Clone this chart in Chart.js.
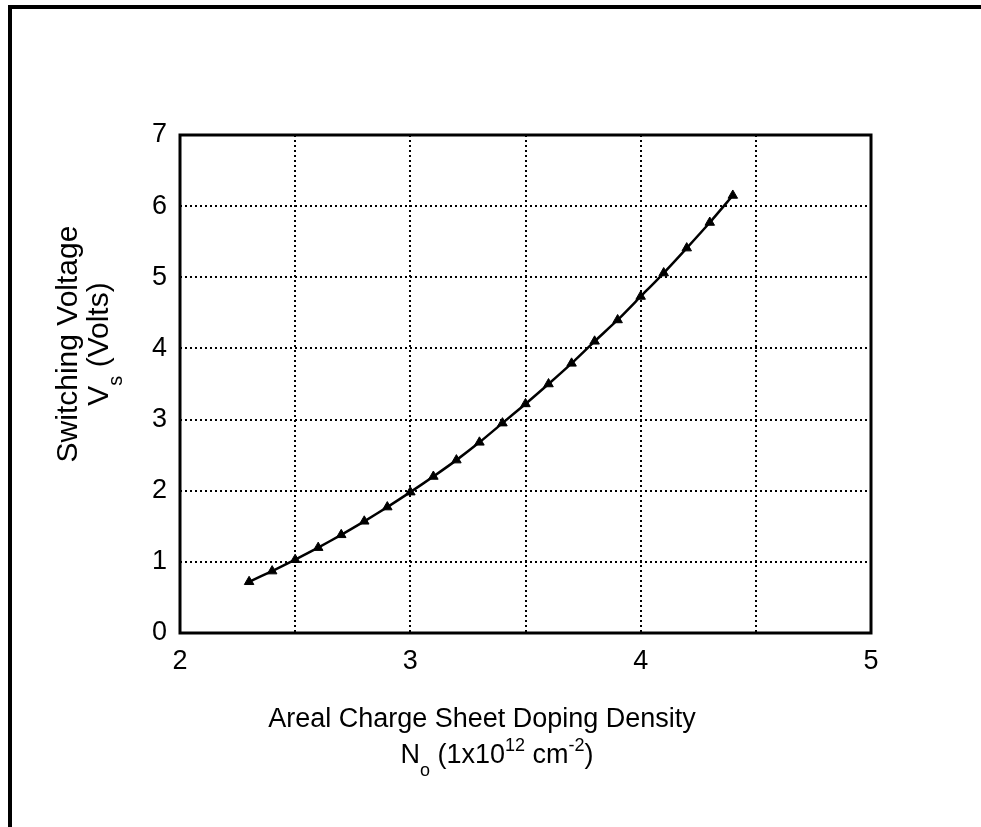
<!DOCTYPE html>
<html>
<head>
<meta charset="utf-8">
<script src="https://cdn.jsdelivr.net/npm/chart.js@4/dist/chart.umd.min.js"></script>
<style>
  html, body { margin: 0; padding: 0; background: #fff; }
  #wrap { width: 981px; height: 827px; position: relative; }
</style>
</head>
<body>
<div id="wrap"><canvas id="my-chart"></canvas></div>
<script>
// doping density (1e12 cm^-2) and switching voltage (V)
const densities = [2.3, 2.4, 2.5, 2.6, 2.7, 2.8, 2.9, 3.0, 3.1, 3.2, 3.3,
                   3.4, 3.5, 3.6, 3.7, 3.8, 3.9, 4.0, 4.1, 4.2, 4.3, 4.4];
const voltages = [0.72, 0.87, 1.03, 1.20, 1.38, 1.57, 1.77, 1.98, 2.20, 2.43, 2.68,
                  2.95, 3.22, 3.50, 3.79, 4.10, 4.40, 4.73, 5.06, 5.41, 5.77, 6.15];
const xTickLabels = [2, 3, 4, 5];
const yTickLabels = [0, 1, 2, 3, 4, 5, 6, 7];

const xTitle = [
  [{ t: 'Areal Charge Sheet Doping Density' }],
  [{ t: 'N' }, { t: 'o', sub: true }, { t: ' (1x10' }, { t: '12', sup: true },
   { t: ' cm' }, { t: '-2', sup: true }, { t: ')' }]
];
const yTitle = [
  [{ t: 'Switching Voltage' }],
  [{ t: 'V' }, { t: 's', sub: true }, { t: ' (Volts)' }]
];

const FONT = '"Liberation Sans", Arial, Helvetica, sans-serif';

// draws a line of text with sub/superscripts centred at (0,0) of the current transform
function richLine(ctx, segs, size) {
  const small = Math.round(size * 0.68);
  let w = 0;
  segs.forEach(s => {
    ctx.font = (s.sub || s.sup ? small : size) + 'px ' + FONT;
    s.w = ctx.measureText(s.t).width;
    w += s.w;
  });
  let x = -w / 2;
  ctx.textBaseline = 'middle';
  ctx.textAlign = 'left';
  segs.forEach(s => {
    ctx.font = (s.sub || s.sup ? small : size) + 'px ' + FONT;
    let dy = 0;
    if (s.sub) dy = size * 0.55;
    if (s.sup) dy = -size * 0.38;
    ctx.fillText(s.t, x, dy);
    x += s.w;
  });
}

const extras = {
  id: 'extras',
  afterDraw(chart) {
    const ctx = chart.ctx;
    const a = chart.chartArea;
    ctx.save();
    ctx.fillStyle = '#000';
    ctx.strokeStyle = '#000';

    // box around the plot
    ctx.lineWidth = 3;
    ctx.strokeRect(a.left, a.top, a.right - a.left, a.bottom - a.top);

    // page frame (top and left edges)
    ctx.lineWidth = 4;
    ctx.beginPath();
    ctx.moveTo(981, 7);
    ctx.lineTo(10, 7);
    ctx.lineTo(10, 827);
    ctx.stroke();

    // x title
    ctx.save();
    ctx.translate(482, 720);
    richLine(ctx, xTitle[0], 27);
    ctx.translate(15, 36);
    richLine(ctx, xTitle[1], 27);
    ctx.restore();

    // y title
    ctx.save();
    ctx.translate(69, 344);
    ctx.rotate(-Math.PI / 2);
    richLine(ctx, yTitle[0], 30);
    ctx.translate(0, 31);
    richLine(ctx, yTitle[1], 30);
    ctx.restore();

    ctx.restore();
  }
};

const dotted = { color: '#000', lineWidth: 2, drawTicks: false };

const ctx = document.getElementById('my-chart').getContext('2d');
const chart = new Chart(ctx, {
  type: 'line',
  data: {
    datasets: [{
      data: densities.map((d, i) => ({ x: d, y: voltages[i] })),
      borderColor: '#000',
      backgroundColor: '#000',
      borderWidth: 2.5,
      pointStyle: 'triangle',
      pointRadius: 5.5,
      pointBorderWidth: 1,
      tension: 0.2
    }]
  },
  plugins: [extras],
  options: {
    responsive: true,
    maintainAspectRatio: false,
    animation: false,
    layout: { padding: { left: 0, top: 135, right: 110, bottom: 134 } },
    plugins: { legend: { display: false }, tooltip: { enabled: false } },
    scales: {
      x: {
        type: 'linear',
        min: 2, max: 5,
        afterFit: s => { s.height = 60; },
        border: { display: false, dash: [2, 3] },
        grid: dotted,
        ticks: {
          stepSize: 0.5,
          padding: 12,
          color: '#000',
          font: { family: FONT, size: 27 },
          callback: v => xTickLabels.includes(v) ? String(v) : ''
        }
      },
      y: {
        type: 'linear',
        min: 0, max: 7,
        afterFit: s => { s.width = 180; },
        border: { display: false, dash: [2, 3] },
        grid: dotted,
        ticks: {
          stepSize: 1,
          padding: 13,
          color: '#000',
          font: { family: FONT, size: 27 },
          callback: v => yTickLabels.includes(v) ? String(v) : ''
        }
      }
    }
  }
});
</script>
</body>
</html>
